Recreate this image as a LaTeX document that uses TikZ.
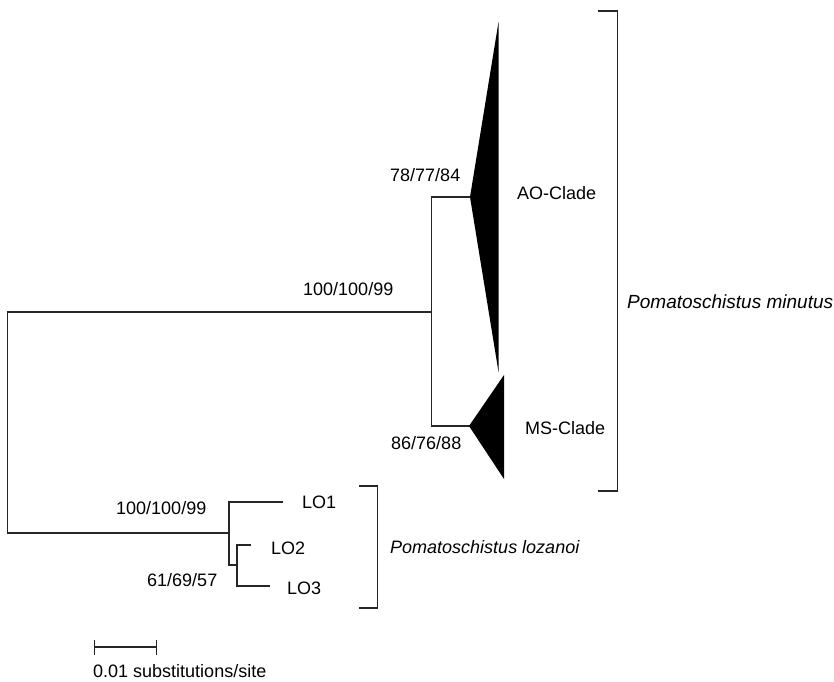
\documentclass[tikz,border=0pt]{standalone}
\usepackage{fontspec}
\setmainfont{Liberation Sans}
\begin{document}
\begin{tikzpicture}[x=1pt,y=-1pt,
  br/.style={line width=1.2pt, draw=black!85, line cap=rect},
  lbl/.style={font=\fontsize{18}{20}\selectfont, inner sep=0pt, text height=12.9pt, text depth=0pt, anchor=west},
  tri/.style={fill=black}]
\useasboundingbox (0,0) rectangle (834,681);
% tree coordinates
\coordinate (rootT) at (7.5,312);
\coordinate (rootB) at (7.5,533);
\coordinate (nPM) at (431.5,312);
\coordinate (nPMa) at (431.5,197);
\coordinate (nPMb) at (431.5,426);
\coordinate (AO) at (470,197);
\coordinate (AOt) at (498.5,22);
\coordinate (AOb) at (498.5,372);
\coordinate (MS) at (469,426);
\coordinate (MSt) at (504,375);
\coordinate (MSb) at (504,479);
\coordinate (nLO) at (229,533);
\coordinate (nLOt) at (229,502);
\coordinate (nLOb) at (229,565);
\coordinate (nLO2) at (237,565);
\coordinate (nLO2t) at (237,545);
\coordinate (nLO2b) at (237,586);
\coordinate (LO1e) at (282,502);
\coordinate (LO2e) at (250,545);
\coordinate (LO3e) at (269,586);
% branches
\draw[br] (nPM) -- (rootT) -- (rootB) -- (nLO);
\draw[br] (AO) -- (nPMa) -- (nPMb) -- (MS);
\draw[br] (LO1e) -- (nLOt) -- (nLOb) -- (nLO2);
\draw[br] (LO2e) -- (nLO2t) -- (nLO2b) -- (LO3e);
% collapsed clades
\fill[tri] (AO) -- (AOt) -- (AOb) -- cycle;
\fill[tri] (MS) -- (MSt) -- (MSb) -- cycle;
% brackets
\coordinate (bm1) at (599,11);
\coordinate (bm2) at (617.5,11);
\coordinate (bm3) at (617.5,491);
\coordinate (bm4) at (599,491);
\draw[br] (bm1) -- (bm2) -- (bm3) -- (bm4);
\coordinate (bl1) at (360,486);
\coordinate (bl2) at (377.5,486);
\coordinate (bl3) at (377.5,608);
\coordinate (bl4) at (360,608);
\draw[br] (bl1) -- (bl2) -- (bl3) -- (bl4);
% scale bar
\coordinate (s1) at (94.5,647);
\coordinate (s2) at (156.5,647);
\coordinate (s1t) at (94.5,641);
\coordinate (s1b) at (94.5,654);
\coordinate (s2t) at (156.5,641);
\coordinate (s2b) at (156.5,654);
\draw[br] (s1) -- (s2);
\draw[br] (s1t) -- (s1b);
\draw[br] (s2t) -- (s2b);
% labels
\node[lbl] (b1) at (303,289) {100/100/99};
\node[lbl] (b2) at (390,175) {78/77/84};
\node[lbl] (b3) at (391,443) {86/76/88};
\node[lbl] (b4) at (116,508) {100/100/99};
\node[lbl] (b5) at (147,580) {61/69/57};
\node[lbl] (ao) at (517,193) {AO-Clade};
\node[lbl] (ms) at (525,428) {MS-Clade};
\node[lbl] (lo1) at (302,502) {LO1};
\node[lbl] (lo2) at (271,548) {LO2};
\node[lbl] (lo3) at (287,588) {LO3};
\node[lbl, font=\fontsize{19}{21}\selectfont\itshape] (pm) at (627,302) {Pomatoschistus minutus};
\node[lbl, font=\fontsize{18}{20}\selectfont\itshape] (pl) at (390,547) {Pomatoschistus lozanoi};
\node[lbl] (sc) at (93,671) {0.01 substitutions/site};
\end{tikzpicture}
\end{document}
